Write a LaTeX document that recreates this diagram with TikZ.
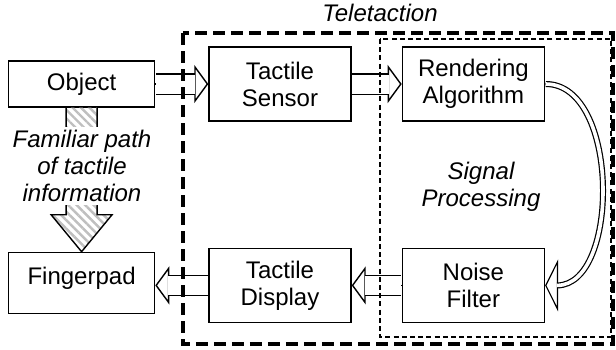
\documentclass[tikz,border=0pt]{standalone}
\usepackage{fontspec}
\setmainfont{Liberation Sans}
\usepackage{tikz}
\usetikzlibrary{arrows.meta,positioning,patterns.meta,calc}
\tikzstyle{block}=[draw,line width=0.7pt,minimum width=71pt,minimum height=37pt,inner sep=0pt,align=center]
\tikzstyle{note}=[font=\fontsize{12}{13.5}\selectfont\itshape,align=center]
\tikzstyle{bigarrow}=[line width=0.7pt,-{Triangle[fill=white,length=7pt,width=19pt]},
  postaction={draw,-,double,double distance=9.5pt,shorten <=0.35pt,shorten >=6.4pt}]
\tikzstyle{curvearrow}=[line width=0.6pt,-{Triangle[fill=white,length=6.5pt,width=26pt]},
  postaction={draw,-,double,double distance=1.8pt,shorten <=0.3pt,shorten >=6pt}]
\tikzstyle{hatch}=[line width=0.7pt,pattern={Lines[angle=-45,distance=3pt,line width=1.2pt]},pattern color=gray!50]
\tikzstyle{teleframe}=[line width=1.6pt,dash pattern=on 6pt off 3pt]
\tikzstyle{sigframe}=[line width=0.6pt,dash pattern=on 2.5pt off 1.6pt]

\begin{document}
\begin{tikzpicture}[x=1pt,y=1pt,font=\fontsize{12}{13.5}\selectfont]
\useasboundingbox (-140,42) rectangle (168,-132.5);

\node [block] (sensor) at (0,0) {Tactile\\Sensor};
\node [block, minimum width=73pt, minimum height=23pt] [left=26.5pt of sensor] (obj) {Object};
\node [block] [right=25pt of sensor] (render) {Rendering\\Algorithm};
\node [block] [below=63pt of sensor] (display) {Tactile\\Display};
\node [block] [below=63pt of render] (noise) {Noise\\Filter};
\node [block, minimum width=73pt, minimum height=30.5pt, text height=9pt, text depth=7.5pt]
  [below=72pt of obj] (finger) {Fingerpad};

% familiar path, hatched
\draw [hatch] ([xshift=-7.75pt]obj.south) -- ([xshift=-7.75pt,yshift=18.5pt]finger.north)
  -- ([xshift=-15.25pt,yshift=18.5pt]finger.north) -- (finger.north)
  -- ([xshift=15.25pt,yshift=18.5pt]finger.north) -- ([xshift=7.75pt,yshift=18.5pt]finger.north)
  -- ([xshift=7.75pt]obj.south);
\node [note, fill=white, inner sep=1.6pt] (familiar) at (-99,-41) {Familiar path\\of tactile\\information};

\draw [bigarrow] (obj) -- (sensor);
\draw [bigarrow] (sensor) -- (render);
\draw [bigarrow] (noise) -- (display);
\draw [bigarrow] (display.west) -- (display.west -| finger.east);
\draw [curvearrow] (render.east) .. controls +(37.5,0) and +(37.5,0) .. (noise.east);

\draw [teleframe] (-48.5,25.5) rectangle (166.5,-130);
\draw [sigframe] (50,22.5) rectangle (165.5,-126.5);
\node [note] (tele) at (50,35.5) {Teletaction};
\node [note] (signal) at (100.5,-51.5) {Signal\\Processing};
\end{tikzpicture}
\end{document}
